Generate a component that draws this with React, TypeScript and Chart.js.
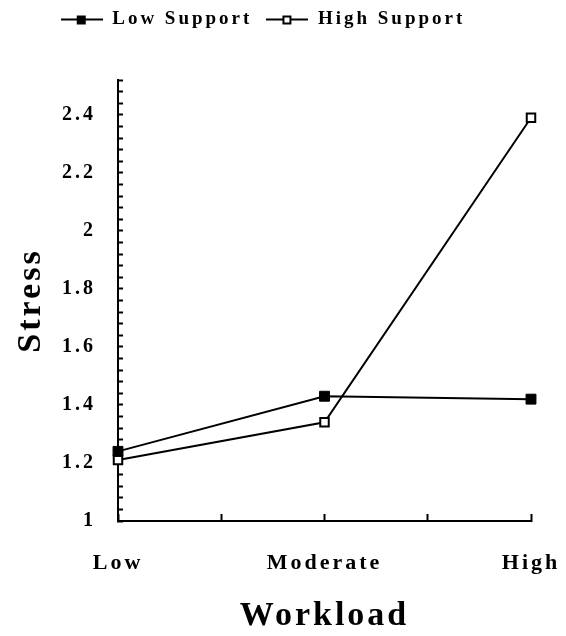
import React, { useEffect, useRef } from 'react';
import { Chart, registerables } from 'chart.js';

Chart.register(...registerables);

// ---- data ----
const categories = ['Low', 'Moderate', 'High'];
const seriesNames = ['Low Support', 'High Support'];
const lowSupport = [1.24, 1.43, 1.42];
const highSupport = [1.21, 1.34, 2.39];
const yMin = 1;
const yMax = 2.52;
const yMinorStep = 0.04;
const yLabelStep = 0.2;
const xTickStep = 0.5;
const xTitle = 'Workload';
const yTitle = 'Stress';

const FONT = '"Liberation Serif", "Times New Roman", serif';

function makeSwatch(filled: boolean): HTMLCanvasElement {
  const c = document.createElement('canvas');
  c.width = 42;
  c.height = 12;
  const ctx = c.getContext('2d') as CanvasRenderingContext2D;
  ctx.strokeStyle = '#000';
  ctx.lineWidth = 2;
  ctx.beginPath();
  ctx.moveTo(0, 6);
  ctx.lineTo(42, 6);
  ctx.stroke();
  if (filled) {
    ctx.fillStyle = '#000';
    ctx.fillRect(16, 2, 9, 9);
  } else {
    ctx.fillStyle = '#fff';
    ctx.fillRect(16, 2, 9, 9);
    ctx.lineWidth = 2;
    ctx.strokeRect(17, 3, 7, 7);
  }
  return c;
}

const setSpacing = (chart: any) => {
  (chart.ctx as any).letterSpacing = '3px';
};

const LEGEND_DX = -20;
const LEGEND_DY = -41;

const stylePlugin = {
  id: 'stylePlugin',
  beforeUpdate: setSpacing,
  beforeLayout: setSpacing,
  beforeDraw: setSpacing,
  afterLayout(chart: any) {
    const l = chart.legend;
    if (l) {
      l.left += LEGEND_DX;
      l.right += LEGEND_DX;
      l.top += LEGEND_DY;
      l.bottom += LEGEND_DY;
    }
  },
};

export default function App() {
  const ref = useRef<HTMLCanvasElement | null>(null);

  useEffect(() => {
    if (!ref.current) return;
    const swatches = [makeSwatch(true), makeSwatch(false)];
    const yTickFont = { family: FONT, size: 20, weight: 'bold' as const };
    const xTickFont = { family: FONT, size: 22, weight: 'bold' as const };
    const legendFont = { family: FONT, size: 19, weight: 'bold' as const };
    const titleFont = { family: FONT, size: 34, weight: 'bold' as const, lineHeight: 1 };
    const chart = new Chart(ref.current, {
      type: 'line',
      data: {
        datasets: [
          {
            label: seriesNames[0],
            data: lowSupport.map((y, i) => ({ x: i, y })),
            borderColor: '#000',
            backgroundColor: '#000',
            borderWidth: 2,
            pointStyle: 'rect',
            pointRadius: 7,
            pointBackgroundColor: '#000',
            pointBorderColor: '#000',
            pointBorderWidth: 1,
            tension: 0,
            clip: false,
          },
          {
            label: seriesNames[1],
            data: highSupport.map((y, i) => ({ x: i, y })),
            borderColor: '#000',
            backgroundColor: '#fff',
            borderWidth: 2,
            pointStyle: 'rect',
            pointRadius: 6,
            pointBackgroundColor: '#fff',
            pointBorderColor: '#000',
            pointBorderWidth: 2,
            tension: 0,
            clip: false,
          },
        ],
      },
      options: {
        animation: false,
        responsive: true,
        maintainAspectRatio: false,
        layout: { padding: { top: 29, left: 0, right: 0, bottom: 0 } },
        plugins: {
          tooltip: { enabled: false },
          legend: {
            position: 'top',
            align: 'center',
            labels: {
              color: '#000',
              font: legendFont,
              usePointStyle: true,
              pointStyleWidth: 42,
              padding: 14,
              generateLabels: () =>
                seriesNames.map((name, i) => ({
                  text: name,
                  pointStyle: swatches[i] as any,
                  fillStyle: '#000',
                  strokeStyle: '#000',
                  lineWidth: 0,
                  hidden: false,
                  datasetIndex: i,
                  fontColor: '#000',
                })),
            },
          },
        },
        scales: {
          x: {
            type: 'linear',
            min: 0,
            max: categories.length - 1,
            ticks: {
              stepSize: xTickStep,
              autoSkip: false,
              maxRotation: 0,
              color: '#000',
              font: xTickFont,
              padding: 36,
              callback: (v: any) => {
                const n = Number(v);
                return Math.abs(n - Math.round(n)) < 1e-6 ? categories[Math.round(n)] : '';
              },
            },
            grid: {
              drawOnChartArea: false,
              drawTicks: true,
              tickLength: -7,
              tickWidth: 2,
              tickColor: '#000',
            },
            border: { display: true, color: '#000', width: 2 },
            title: {
              display: true,
              text: xTitle,
              color: '#000',
              font: titleFont,
              padding: { top: 0, bottom: -5 },
            },
            afterFit: (s: any) => {
              s.height = 107;
              s.paddingLeft = 0;
              s.paddingRight = 27;
            },
          },
          y: {
            type: 'linear',
            min: yMin,
            max: yMax,
            ticks: {
              stepSize: yMinorStep,
              autoSkip: false,
              color: '#000',
              font: yTickFont,
              padding: 27,
              callback: (v: any) => {
                const n = Number(v);
                const k = n / yLabelStep;
                return Math.abs(k - Math.round(k)) < 1e-6 ? String(Number(n.toFixed(1))) : '';
              },
            },
            grid: {
              drawOnChartArea: false,
              drawTicks: true,
              tickLength: -5,
              tickWidth: 2,
              tickColor: '#000',
            },
            border: { display: true, color: '#000', width: 2 },
            title: {
              display: true,
              text: yTitle,
              color: '#000',
              font: titleFont,
              padding: { top: 6, bottom: 0 },
            },
            afterFit: (s: any) => {
              s.width = 110;
            },
          },
        },
      },
      plugins: [stylePlugin],
    });
    return () => chart.destroy();
  }, []);

  return (
    <div style={{ width: 550, height: 620, position: 'relative' }}>
      <canvas ref={ref} />
    </div>
  );
}
